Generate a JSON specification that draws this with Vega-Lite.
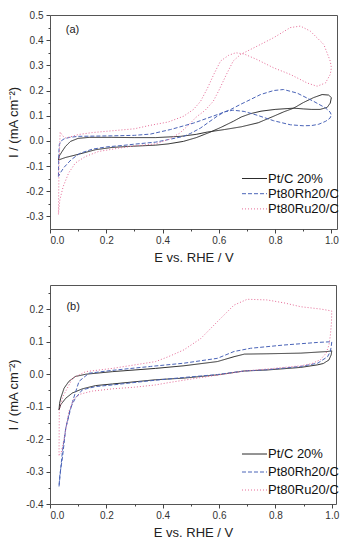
{
  "$schema": "https://vega.github.io/schema/vega-lite/v6.json",
  "padding": {"left": 7, "top": 9, "right": 0, "bottom": 0},
  "spacing": 19,
  "config": {
    "font": "Liberation Sans",
    "view": {"stroke": "#555", "strokeWidth": 1},
    "axis": {"grid": false, "domain": false, "tickColor": "#444", "labelColor": "#333", "labelFontSize": 10, "titleFontSize": 13, "titleFontWeight": "normal", "titleColor": "#222", "tickSize": 4, "labelPadding": 2},
    "locale": {"number": {"decimal": ".", "thousands": ",", "grouping": [3], "currency": ["$", ""], "minus": "-"}}
  },
  "datasets": {
    "a": [
      {"s":"Pt/C 20%","o":0,"x":0.030,"y":-0.076},{"s":"Pt/C 20%","o":1,"x":0.033,"y":-0.06},{"s":"Pt/C 20%","o":2,"x":0.043,"y":-0.042},{"s":"Pt/C 20%","o":3,"x":0.055,"y":-0.022},{"s":"Pt/C 20%","o":4,"x":0.073,"y":-0.002},{"s":"Pt/C 20%","o":5,"x":0.1,"y":0.01},{"s":"Pt/C 20%","o":6,"x":0.14,"y":0.014},{"s":"Pt/C 20%","o":7,"x":0.22,"y":0.014},{"s":"Pt/C 20%","o":8,"x":0.3,"y":0.013},{"s":"Pt/C 20%","o":9,"x":0.375,"y":0.013},{"s":"Pt/C 20%","o":10,"x":0.464,"y":0.018},{"s":"Pt/C 20%","o":11,"x":0.52,"y":0.026},{"s":"Pt/C 20%","o":12,"x":0.559,"y":0.035},{"s":"Pt/C 20%","o":13,"x":0.62,"y":0.045},{"s":"Pt/C 20%","o":14,"x":0.68,"y":0.056},{"s":"Pt/C 20%","o":15,"x":0.74,"y":0.072},{"s":"Pt/C 20%","o":16,"x":0.795,"y":0.098},{"s":"Pt/C 20%","o":17,"x":0.83,"y":0.115},{"s":"Pt/C 20%","o":18,"x":0.866,"y":0.13},{"s":"Pt/C 20%","o":19,"x":0.9,"y":0.152},{"s":"Pt/C 20%","o":20,"x":0.937,"y":0.172},{"s":"Pt/C 20%","o":21,"x":0.967,"y":0.184},{"s":"Pt/C 20%","o":22,"x":0.99,"y":0.182},{"s":"Pt/C 20%","o":23,"x":1.0,"y":0.172},{"s":"Pt/C 20%","o":24,"x":0.996,"y":0.15},{"s":"Pt/C 20%","o":25,"x":0.985,"y":0.133},{"s":"Pt/C 20%","o":26,"x":0.96,"y":0.125},{"s":"Pt/C 20%","o":27,"x":0.93,"y":0.125},{"s":"Pt/C 20%","o":28,"x":0.9,"y":0.127},{"s":"Pt/C 20%","o":29,"x":0.866,"y":0.13},{"s":"Pt/C 20%","o":30,"x":0.8,"y":0.125},{"s":"Pt/C 20%","o":31,"x":0.75,"y":0.118},{"s":"Pt/C 20%","o":32,"x":0.712,"y":0.108},{"s":"Pt/C 20%","o":33,"x":0.68,"y":0.095},{"s":"Pt/C 20%","o":34,"x":0.652,"y":0.078},{"s":"Pt/C 20%","o":35,"x":0.61,"y":0.055},{"s":"Pt/C 20%","o":36,"x":0.57,"y":0.035},{"s":"Pt/C 20%","o":37,"x":0.52,"y":0.013},{"s":"Pt/C 20%","o":38,"x":0.474,"y":-0.002},{"s":"Pt/C 20%","o":39,"x":0.42,"y":-0.012},{"s":"Pt/C 20%","o":40,"x":0.375,"y":-0.017},{"s":"Pt/C 20%","o":41,"x":0.28,"y":-0.022},{"s":"Pt/C 20%","o":42,"x":0.221,"y":-0.026},{"s":"Pt/C 20%","o":43,"x":0.162,"y":-0.035},{"s":"Pt/C 20%","o":44,"x":0.102,"y":-0.053},{"s":"Pt/C 20%","o":45,"x":0.055,"y":-0.066},{"s":"Pt/C 20%","o":46,"x":0.030,"y":-0.076},
      {"s":"Pt80Rh20/C","o":0,"x":0.030,"y":-0.141},{"s":"Pt80Rh20/C","o":1,"x":0.031,"y":-0.06},{"s":"Pt80Rh20/C","o":2,"x":0.033,"y":-0.015},{"s":"Pt80Rh20/C","o":3,"x":0.04,"y":0.0},{"s":"Pt80Rh20/C","o":4,"x":0.05,"y":0.008},{"s":"Pt80Rh20/C","o":5,"x":0.07,"y":0.014},{"s":"Pt80Rh20/C","o":6,"x":0.1,"y":0.018},{"s":"Pt80Rh20/C","o":7,"x":0.16,"y":0.019},{"s":"Pt80Rh20/C","o":8,"x":0.22,"y":0.02},{"s":"Pt80Rh20/C","o":9,"x":0.3,"y":0.022},{"s":"Pt80Rh20/C","o":10,"x":0.357,"y":0.027},{"s":"Pt80Rh20/C","o":11,"x":0.428,"y":0.045},{"s":"Pt80Rh20/C","o":12,"x":0.511,"y":0.071},{"s":"Pt80Rh20/C","o":13,"x":0.594,"y":0.104},{"s":"Pt80Rh20/C","o":14,"x":0.641,"y":0.124},{"s":"Pt80Rh20/C","o":15,"x":0.677,"y":0.145},{"s":"Pt80Rh20/C","o":16,"x":0.712,"y":0.164},{"s":"Pt80Rh20/C","o":17,"x":0.748,"y":0.184},{"s":"Pt80Rh20/C","o":18,"x":0.795,"y":0.2},{"s":"Pt80Rh20/C","o":19,"x":0.83,"y":0.204},{"s":"Pt80Rh20/C","o":20,"x":0.878,"y":0.19},{"s":"Pt80Rh20/C","o":21,"x":0.937,"y":0.157},{"s":"Pt80Rh20/C","o":22,"x":0.979,"y":0.131},{"s":"Pt80Rh20/C","o":23,"x":0.995,"y":0.115},{"s":"Pt80Rh20/C","o":24,"x":1.0,"y":0.103},{"s":"Pt80Rh20/C","o":25,"x":0.995,"y":0.09},{"s":"Pt80Rh20/C","o":26,"x":0.98,"y":0.078},{"s":"Pt80Rh20/C","o":27,"x":0.955,"y":0.066},{"s":"Pt80Rh20/C","o":28,"x":0.93,"y":0.061},{"s":"Pt80Rh20/C","o":29,"x":0.9,"y":0.06},{"s":"Pt80Rh20/C","o":30,"x":0.854,"y":0.064},{"s":"Pt80Rh20/C","o":31,"x":0.795,"y":0.08},{"s":"Pt80Rh20/C","o":32,"x":0.736,"y":0.102},{"s":"Pt80Rh20/C","o":33,"x":0.69,"y":0.117},{"s":"Pt80Rh20/C","o":34,"x":0.65,"y":0.122},{"s":"Pt80Rh20/C","o":35,"x":0.62,"y":0.115},{"s":"Pt80Rh20/C","o":36,"x":0.594,"y":0.098},{"s":"Pt80Rh20/C","o":37,"x":0.565,"y":0.075},{"s":"Pt80Rh20/C","o":38,"x":0.535,"y":0.051},{"s":"Pt80Rh20/C","o":39,"x":0.5,"y":0.03},{"s":"Pt80Rh20/C","o":40,"x":0.475,"y":0.018},{"s":"Pt80Rh20/C","o":41,"x":0.42,"y":0.005},{"s":"Pt80Rh20/C","o":42,"x":0.375,"y":-0.005},{"s":"Pt80Rh20/C","o":43,"x":0.3,"y":-0.013},{"s":"Pt80Rh20/C","o":44,"x":0.26,"y":-0.018},{"s":"Pt80Rh20/C","o":45,"x":0.2,"y":-0.024},{"s":"Pt80Rh20/C","o":46,"x":0.15,"y":-0.033},{"s":"Pt80Rh20/C","o":47,"x":0.105,"y":-0.05},{"s":"Pt80Rh20/C","o":48,"x":0.075,"y":-0.075},{"s":"Pt80Rh20/C","o":49,"x":0.05,"y":-0.105},{"s":"Pt80Rh20/C","o":50,"x":0.038,"y":-0.125},{"s":"Pt80Rh20/C","o":51,"x":0.030,"y":-0.141},
      {"s":"Pt80Ru20/C","o":0,"x":0.030,"y":-0.292},{"s":"Pt80Ru20/C","o":1,"x":0.032,"y":-0.1},{"s":"Pt80Ru20/C","o":2,"x":0.036,"y":0.035},{"s":"Pt80Ru20/C","o":3,"x":0.045,"y":0.02},{"s":"Pt80Ru20/C","o":4,"x":0.055,"y":0.012},{"s":"Pt80Ru20/C","o":5,"x":0.07,"y":0.015},{"s":"Pt80Ru20/C","o":6,"x":0.1,"y":0.025},{"s":"Pt80Ru20/C","o":7,"x":0.15,"y":0.033},{"s":"Pt80Ru20/C","o":8,"x":0.22,"y":0.04},{"s":"Pt80Ru20/C","o":9,"x":0.3,"y":0.048},{"s":"Pt80Ru20/C","o":10,"x":0.357,"y":0.062},{"s":"Pt80Ru20/C","o":11,"x":0.42,"y":0.075},{"s":"Pt80Ru20/C","o":12,"x":0.475,"y":0.098},{"s":"Pt80Ru20/C","o":13,"x":0.51,"y":0.125},{"s":"Pt80Ru20/C","o":14,"x":0.535,"y":0.157},{"s":"Pt80Ru20/C","o":15,"x":0.56,"y":0.21},{"s":"Pt80Ru20/C","o":16,"x":0.582,"y":0.264},{"s":"Pt80Ru20/C","o":17,"x":0.606,"y":0.317},{"s":"Pt80Ru20/C","o":18,"x":0.635,"y":0.34},{"s":"Pt80Ru20/C","o":19,"x":0.66,"y":0.35},{"s":"Pt80Ru20/C","o":20,"x":0.69,"y":0.345},{"s":"Pt80Ru20/C","o":21,"x":0.736,"y":0.323},{"s":"Pt80Ru20/C","o":22,"x":0.795,"y":0.29},{"s":"Pt80Ru20/C","o":23,"x":0.854,"y":0.264},{"s":"Pt80Ru20/C","o":24,"x":0.914,"y":0.23},{"s":"Pt80Ru20/C","o":25,"x":0.949,"y":0.217},{"s":"Pt80Ru20/C","o":26,"x":0.979,"y":0.23},{"s":"Pt80Ru20/C","o":27,"x":0.996,"y":0.264},{"s":"Pt80Ru20/C","o":28,"x":1.0,"y":0.29},{"s":"Pt80Ru20/C","o":29,"x":0.996,"y":0.317},{"s":"Pt80Ru20/C","o":30,"x":0.973,"y":0.383},{"s":"Pt80Ru20/C","o":31,"x":0.925,"y":0.436},{"s":"Pt80Ru20/C","o":32,"x":0.89,"y":0.456},{"s":"Pt80Ru20/C","o":33,"x":0.854,"y":0.45},{"s":"Pt80Ru20/C","o":34,"x":0.795,"y":0.41},{"s":"Pt80Ru20/C","o":35,"x":0.748,"y":0.383},{"s":"Pt80Ru20/C","o":36,"x":0.677,"y":0.343},{"s":"Pt80Ru20/C","o":37,"x":0.651,"y":0.317},{"s":"Pt80Ru20/C","o":38,"x":0.627,"y":0.264},{"s":"Pt80Ru20/C","o":39,"x":0.6,"y":0.2},{"s":"Pt80Ru20/C","o":40,"x":0.58,"y":0.157},{"s":"Pt80Ru20/C","o":41,"x":0.55,"y":0.12},{"s":"Pt80Ru20/C","o":42,"x":0.52,"y":0.095},{"s":"Pt80Ru20/C","o":43,"x":0.49,"y":0.06},{"s":"Pt80Ru20/C","o":44,"x":0.46,"y":0.03},{"s":"Pt80Ru20/C","o":45,"x":0.42,"y":0.005},{"s":"Pt80Ru20/C","o":46,"x":0.375,"y":-0.012},{"s":"Pt80Ru20/C","o":47,"x":0.3,"y":-0.02},{"s":"Pt80Ru20/C","o":48,"x":0.244,"y":-0.029},{"s":"Pt80Ru20/C","o":49,"x":0.173,"y":-0.042},{"s":"Pt80Ru20/C","o":50,"x":0.126,"y":-0.062},{"s":"Pt80Ru20/C","o":51,"x":0.09,"y":-0.088},{"s":"Pt80Ru20/C","o":52,"x":0.066,"y":-0.128},{"s":"Pt80Ru20/C","o":53,"x":0.047,"y":-0.181},{"s":"Pt80Ru20/C","o":54,"x":0.035,"y":-0.234},{"s":"Pt80Ru20/C","o":55,"x":0.030,"y":-0.292}
    ],
    "b": [
      {"s":"Pt/C 20%","o":0,"x":0.032,"y":-0.11},{"s":"Pt/C 20%","o":1,"x":0.034,"y":-0.09},{"s":"Pt/C 20%","o":2,"x":0.038,"y":-0.074},{"s":"Pt/C 20%","o":3,"x":0.05,"y":-0.043},{"s":"Pt/C 20%","o":4,"x":0.067,"y":-0.022},{"s":"Pt/C 20%","o":5,"x":0.09,"y":-0.007},{"s":"Pt/C 20%","o":6,"x":0.127,"y":0.0},{"s":"Pt/C 20%","o":7,"x":0.222,"y":0.008},{"s":"Pt/C 20%","o":8,"x":0.375,"y":0.018},{"s":"Pt/C 20%","o":9,"x":0.475,"y":0.026},{"s":"Pt/C 20%","o":10,"x":0.594,"y":0.039},{"s":"Pt/C 20%","o":11,"x":0.653,"y":0.054},{"s":"Pt/C 20%","o":12,"x":0.69,"y":0.062},{"s":"Pt/C 20%","o":13,"x":0.77,"y":0.063},{"s":"Pt/C 20%","o":14,"x":0.89,"y":0.065},{"s":"Pt/C 20%","o":15,"x":0.985,"y":0.07},{"s":"Pt/C 20%","o":16,"x":1.0,"y":0.072},{"s":"Pt/C 20%","o":17,"x":0.998,"y":0.06},{"s":"Pt/C 20%","o":18,"x":0.99,"y":0.044},{"s":"Pt/C 20%","o":19,"x":0.97,"y":0.033},{"s":"Pt/C 20%","o":20,"x":0.95,"y":0.029},{"s":"Pt/C 20%","o":21,"x":0.89,"y":0.021},{"s":"Pt/C 20%","o":22,"x":0.77,"y":0.013},{"s":"Pt/C 20%","o":23,"x":0.69,"y":0.01},{"s":"Pt/C 20%","o":24,"x":0.594,"y":-0.002},{"s":"Pt/C 20%","o":25,"x":0.475,"y":-0.012},{"s":"Pt/C 20%","o":26,"x":0.375,"y":-0.017},{"s":"Pt/C 20%","o":27,"x":0.222,"y":-0.03},{"s":"Pt/C 20%","o":28,"x":0.162,"y":-0.035},{"s":"Pt/C 20%","o":29,"x":0.115,"y":-0.045},{"s":"Pt/C 20%","o":30,"x":0.079,"y":-0.058},{"s":"Pt/C 20%","o":31,"x":0.056,"y":-0.074},{"s":"Pt/C 20%","o":32,"x":0.038,"y":-0.094},{"s":"Pt/C 20%","o":33,"x":0.032,"y":-0.11},
      {"s":"Pt80Rh20/C","o":0,"x":0.032,"y":-0.346},{"s":"Pt80Rh20/C","o":1,"x":0.044,"y":-0.238},{"s":"Pt80Rh20/C","o":2,"x":0.056,"y":-0.166},{"s":"Pt80Rh20/C","o":3,"x":0.08,"y":-0.084},{"s":"Pt80Rh20/C","o":4,"x":0.103,"y":-0.022},{"s":"Pt80Rh20/C","o":5,"x":0.138,"y":0.003},{"s":"Pt80Rh20/C","o":6,"x":0.222,"y":0.012},{"s":"Pt80Rh20/C","o":7,"x":0.357,"y":0.024},{"s":"Pt80Rh20/C","o":8,"x":0.475,"y":0.034},{"s":"Pt80Rh20/C","o":9,"x":0.594,"y":0.049},{"s":"Pt80Rh20/C","o":10,"x":0.653,"y":0.07},{"s":"Pt80Rh20/C","o":11,"x":0.712,"y":0.08},{"s":"Pt80Rh20/C","o":12,"x":0.83,"y":0.09},{"s":"Pt80Rh20/C","o":13,"x":0.95,"y":0.098},{"s":"Pt80Rh20/C","o":14,"x":0.995,"y":0.1},{"s":"Pt80Rh20/C","o":15,"x":1.0,"y":0.1},{"s":"Pt80Rh20/C","o":16,"x":0.998,"y":0.085},{"s":"Pt80Rh20/C","o":17,"x":0.995,"y":0.07},{"s":"Pt80Rh20/C","o":18,"x":0.985,"y":0.054},{"s":"Pt80Rh20/C","o":19,"x":0.95,"y":0.034},{"s":"Pt80Rh20/C","o":20,"x":0.89,"y":0.024},{"s":"Pt80Rh20/C","o":21,"x":0.77,"y":0.014},{"s":"Pt80Rh20/C","o":22,"x":0.69,"y":0.01},{"s":"Pt80Rh20/C","o":23,"x":0.594,"y":-0.001},{"s":"Pt80Rh20/C","o":24,"x":0.475,"y":-0.01},{"s":"Pt80Rh20/C","o":25,"x":0.357,"y":-0.02},{"s":"Pt80Rh20/C","o":26,"x":0.222,"y":-0.033},{"s":"Pt80Rh20/C","o":27,"x":0.162,"y":-0.038},{"s":"Pt80Rh20/C","o":28,"x":0.115,"y":-0.048},{"s":"Pt80Rh20/C","o":29,"x":0.09,"y":-0.074},{"s":"Pt80Rh20/C","o":30,"x":0.072,"y":-0.105},{"s":"Pt80Rh20/C","o":31,"x":0.056,"y":-0.166},{"s":"Pt80Rh20/C","o":32,"x":0.044,"y":-0.258},{"s":"Pt80Rh20/C","o":33,"x":0.035,"y":-0.31},{"s":"Pt80Rh20/C","o":34,"x":0.032,"y":-0.346},
      {"s":"Pt80Ru20/C","o":0,"x":0.032,"y":-0.25},{"s":"Pt80Ru20/C","o":1,"x":0.033,"y":-0.11},{"s":"Pt80Ru20/C","o":2,"x":0.045,"y":-0.07},{"s":"Pt80Ru20/C","o":3,"x":0.056,"y":-0.052},{"s":"Pt80Ru20/C","o":4,"x":0.08,"y":-0.012},{"s":"Pt80Ru20/C","o":5,"x":0.127,"y":0.008},{"s":"Pt80Ru20/C","o":6,"x":0.222,"y":0.018},{"s":"Pt80Ru20/C","o":7,"x":0.375,"y":0.039},{"s":"Pt80Ru20/C","o":8,"x":0.42,"y":0.054},{"s":"Pt80Ru20/C","o":9,"x":0.475,"y":0.075},{"s":"Pt80Ru20/C","o":10,"x":0.535,"y":0.11},{"s":"Pt80Ru20/C","o":11,"x":0.594,"y":0.162},{"s":"Pt80Ru20/C","o":12,"x":0.653,"y":0.213},{"s":"Pt80Ru20/C","o":13,"x":0.7,"y":0.231},{"s":"Pt80Ru20/C","o":14,"x":0.77,"y":0.229},{"s":"Pt80Ru20/C","o":15,"x":0.83,"y":0.22},{"s":"Pt80Ru20/C","o":16,"x":0.89,"y":0.208},{"s":"Pt80Ru20/C","o":17,"x":0.96,"y":0.201},{"s":"Pt80Ru20/C","o":18,"x":1.0,"y":0.195},{"s":"Pt80Ru20/C","o":19,"x":0.999,"y":0.16},{"s":"Pt80Ru20/C","o":20,"x":0.995,"y":0.12},{"s":"Pt80Ru20/C","o":21,"x":0.99,"y":0.09},{"s":"Pt80Ru20/C","o":22,"x":0.98,"y":0.065},{"s":"Pt80Ru20/C","o":23,"x":0.96,"y":0.045},{"s":"Pt80Ru20/C","o":24,"x":0.93,"y":0.033},{"s":"Pt80Ru20/C","o":25,"x":0.89,"y":0.026},{"s":"Pt80Ru20/C","o":26,"x":0.77,"y":0.016},{"s":"Pt80Ru20/C","o":27,"x":0.69,"y":0.01},{"s":"Pt80Ru20/C","o":28,"x":0.6,"y":-0.002},{"s":"Pt80Ru20/C","o":29,"x":0.5,"y":-0.015},{"s":"Pt80Ru20/C","o":30,"x":0.42,"y":-0.026},{"s":"Pt80Ru20/C","o":31,"x":0.375,"y":-0.033},{"s":"Pt80Ru20/C","o":32,"x":0.3,"y":-0.04},{"s":"Pt80Ru20/C","o":33,"x":0.222,"y":-0.045},{"s":"Pt80Ru20/C","o":34,"x":0.15,"y":-0.052},{"s":"Pt80Ru20/C","o":35,"x":0.105,"y":-0.062},{"s":"Pt80Ru20/C","o":36,"x":0.085,"y":-0.076},{"s":"Pt80Ru20/C","o":37,"x":0.067,"y":-0.115},{"s":"Pt80Ru20/C","o":38,"x":0.05,"y":-0.2},{"s":"Pt80Ru20/C","o":39,"x":0.04,"y":-0.24},{"s":"Pt80Ru20/C","o":40,"x":0.032,"y":-0.25}
    ],
    "la": [{"x": 0.08, "y": 0.44, "t": "(a)"}],
    "lb": [{"x": 0.082, "y": 0.207, "t": "(b)"}]
  },
  "vconcat": [
    {
      "width": 287, "height": 214,
      "layer": [
        {
          "data": {"name": "a"},
          "mark": {"type": "line", "strokeWidth": 1},
          "encoding": {
            "x": {"field": "x", "type": "quantitative", "scale": {"domain": [0, 1.02], "nice": false, "zero": false},
                  "axis": {"orient": "bottom", "values": [0, 0.2, 0.4, 0.6, 0.8, 1.0], "format": ".1f", "title": "E vs. RHE / V", "titlePadding": 6}},
            "y": {"field": "y", "type": "quantitative", "scale": {"domain": [-0.35, 0.5], "nice": false, "zero": false},
                  "axis": {"orient": "left", "values": [-0.3, -0.2, -0.1, 0, 0.1, 0.2, 0.3, 0.4, 0.5], "format": ".1f", "title": "I / (mA cm⁻²)", "titlePadding": 5, "labelPadding": 3}},
            "order": {"field": "o", "type": "quantitative"},
            "color": {"field": "s", "type": "nominal",
                      "scale": {"domain": ["Pt/C 20%", "Pt80Rh20/C", "Pt80Ru20/C"], "range": ["#2a2a2a", "#4a64b8", "#e66a96"]},
                      "legend": {"title": null, "orient": "none", "legendX": 197, "legendY": 156, "symbolType": "M-1.786,0L1.786,0", "symbolSize": 196, "symbolStrokeWidth": 1, "labelFontSize": 13, "labelOffset": 6, "rowPadding": 0.2, "padding": 0, "labelColor": "#111", "labelLimit": 200}},
            "strokeDash": {"field": "s", "type": "nominal",
                      "scale": {"domain": ["Pt/C 20%", "Pt80Rh20/C", "Pt80Ru20/C"], "range": [[1, 0], [4, 2], [1, 2]]},
                      "legend": {"title": null, "orient": "none", "legendX": 197, "legendY": 156, "symbolType": "M-1.786,0L1.786,0", "symbolSize": 196, "symbolStrokeWidth": 1, "labelFontSize": 13, "labelOffset": 6, "rowPadding": 0.2, "padding": 0, "labelColor": "#111", "labelLimit": 200}}
          }
        },
        {
          "data": {"name": "la"},
          "mark": {"type": "text", "fontSize": 11, "color": "#222"},
          "encoding": {
            "x": {"field": "x", "type": "quantitative", "axis": {"orient": "bottom", "values": [0.1, 0.3, 0.5, 0.7, 0.9], "labels": false, "tickSize": 2, "title": null}},
            "y": {"field": "y", "type": "quantitative", "axis": {"orient": "left", "values": [-0.25, -0.15, -0.05, 0.05, 0.15, 0.25, 0.35, 0.45], "labels": false, "tickSize": 2, "title": null}},
            "text": {"field": "t"}
          }
        }
      ],
      "resolve": {"axis": {"x": "independent", "y": "independent"}}
    },
    {
      "width": 286, "height": 219,
      "layer": [
        {
          "data": {"name": "b"},
          "mark": {"type": "line", "strokeWidth": 1},
          "encoding": {
            "x": {"field": "x", "type": "quantitative", "scale": {"domain": [0, 1.015], "nice": false, "zero": false},
                  "axis": {"orient": "bottom", "values": [0, 0.2, 0.4, 0.6, 0.8, 1.0], "format": ".1f", "title": "E vs. RHE / V", "titlePadding": 6}},
            "y": {"field": "y", "type": "quantitative", "scale": {"domain": [-0.4, 0.275], "nice": false, "zero": false},
                  "axis": {"orient": "left", "values": [-0.4, -0.3, -0.2, -0.1, 0, 0.1, 0.2], "format": ".1f", "title": "I / (mA cm⁻²)", "titlePadding": 5, "labelPadding": 3}},
            "order": {"field": "o", "type": "quantitative"},
            "color": {"field": "s", "type": "nominal",
                      "scale": {"domain": ["Pt/C 20%", "Pt80Rh20/C", "Pt80Ru20/C"], "range": ["#2a2a2a", "#4a64b8", "#e66a96"]},
                      "legend": {"title": null, "orient": "none", "legendX": 197, "legendY": 161.5, "symbolType": "M-1.786,0L1.786,0", "symbolSize": 196, "symbolStrokeWidth": 1, "labelFontSize": 13, "labelOffset": 6, "rowPadding": 3, "padding": 0, "labelColor": "#111", "labelLimit": 200}},
            "strokeDash": {"field": "s", "type": "nominal",
                      "scale": {"domain": ["Pt/C 20%", "Pt80Rh20/C", "Pt80Ru20/C"], "range": [[1, 0], [4, 2], [1, 2]]},
                      "legend": {"title": null, "orient": "none", "legendX": 197, "legendY": 161.5, "symbolType": "M-1.786,0L1.786,0", "symbolSize": 196, "symbolStrokeWidth": 1, "labelFontSize": 13, "labelOffset": 6, "rowPadding": 3, "padding": 0, "labelColor": "#111", "labelLimit": 200}}
          }
        },
        {
          "data": {"name": "lb"},
          "mark": {"type": "text", "fontSize": 11, "color": "#222"},
          "encoding": {
            "x": {"field": "x", "type": "quantitative", "axis": {"orient": "bottom", "values": [0.1, 0.3, 0.5, 0.7, 0.9], "labels": false, "tickSize": 2, "title": null}},
            "y": {"field": "y", "type": "quantitative", "axis": {"orient": "left", "values": [-0.35, -0.25, -0.15, -0.05, 0.05, 0.15, 0.25], "labels": false, "tickSize": 2, "title": null}},
            "text": {"field": "t"}
          }
        }
      ],
      "resolve": {"axis": {"x": "independent", "y": "independent"}}
    }
  ],
  "resolve": {"scale": {"color": "independent", "strokeDash": "independent"}, "legend": {"color": "independent", "strokeDash": "independent"}}
}
